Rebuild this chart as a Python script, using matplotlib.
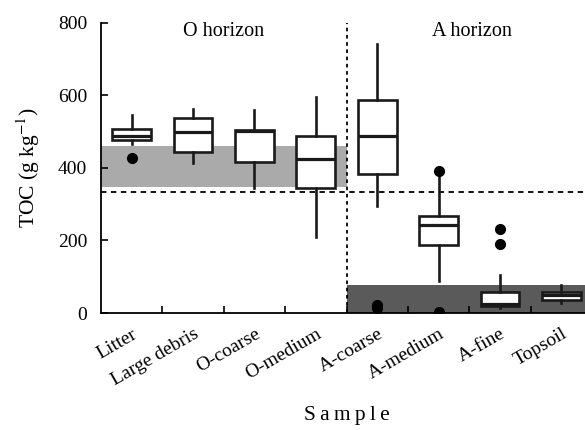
import matplotlib
matplotlib.use("Agg")
import matplotlib.pyplot as plt

plt.rcParams['font.family'] = ['Liberation Serif', 'DejaVu Serif']
plt.rcParams['mathtext.fontset'] = 'stix'

samples = ["Litter", "Large debris", "O-coarse", "O-medium",
           "A-coarse", "A-medium", "A-fine", "Topsoil"]
whis_lo = [465, 412, 345, 210, 295, 89, 15, 28]
q1 = [478, 445, 417, 345, 383, 187, 20, 36]
med = [487, 500, 501, 424, 487, 242, 26, 50]
q3 = [506, 536, 505, 489, 586, 267, 59, 59]
whis_hi = [547, 561, 559, 594, 740, 392, 105, 77]
fliers = [[427], [], [], [], [15, 22], [392, 4], [231, 189], []]

# reference ranges (shaded) and threshold
o_range = (346, 460)
a_range = (0, 77)
threshold = 334

stats = []
for i, s in enumerate(samples):
    stats.append(dict(label=s, whislo=whis_lo[i], q1=q1[i], med=med[i],
                      q3=q3[i], whishi=whis_hi[i], fliers=fliers[i]))

fig = plt.figure(figsize=(5.85, 4.3), dpi=100)
ax = fig.add_axes([101 / 585, 117 / 430, 491 / 585, 290.3 / 430])

n = len(samples)
split = 4.5
ax.axhspan(o_range[0], o_range[1], xmin=0, xmax=(split - 0.5) / n,
           color='#aaaaaa', lw=0, zorder=0)
ax.axhspan(a_range[0], a_range[1], xmin=(split - 0.5) / n, xmax=1,
           color='#5a5a5a', lw=0, zorder=0)
ax.axhline(threshold, color='black', ls=(0, (3, 2.5)), lw=1.3, zorder=1)
ax.axvline(split, color='black', ls=(0, (2, 2)), lw=1.3, zorder=1)

ax.bxp(stats, positions=range(1, n + 1), widths=0.63, patch_artist=True,
       showcaps=False,
       boxprops=dict(facecolor='white', edgecolor='#1a1a1a', lw=1.9),
       whiskerprops=dict(color='#1a1a1a', lw=1.9),
       medianprops=dict(color='#1a1a1a', lw=2.3),
       flierprops=dict(marker='o', markerfacecolor='black',
                       markeredgecolor='black', markersize=7))

ax.set_xlim(0.5, n + 0.5)
ax.set_ylim(0, 800)
ax.set_yticks([0, 200, 400, 600, 800])
ax.set_xticks(range(1, n + 1))
ax.set_xticklabels(samples, rotation=30, ha='right', rotation_mode='anchor',
                   fontsize=14)
ax.set_xticks([i + 0.5 for i in range(1, n)], minor=True)
ax.tick_params(axis='x', which='major', length=0, pad=9)
ax.tick_params(axis='x', which='minor', direction='in', length=5, width=1.2)
ax.tick_params(axis='y', direction='in', length=5, width=1.2, labelsize=14,
               pad=10)

for sp in ['top', 'right']:
    ax.spines[sp].set_visible(False)
for sp in ['left', 'bottom']:
    ax.spines[sp].set_linewidth(1.3)

ax.text(2.5, 775, "O horizon", ha='center', va='center', fontsize=14.5)
ax.text(6.55, 775, "A horizon", ha='center', va='center', fontsize=14.5)

ax.set_ylabel("TOC (g kg$^{-1}$)", fontsize=15.5, labelpad=11)
ax.set_xlabel("S a m p l e".replace(" ", "\u2009"), fontsize=15.5, labelpad=12)

fig.savefig("out.png", dpi=100)
